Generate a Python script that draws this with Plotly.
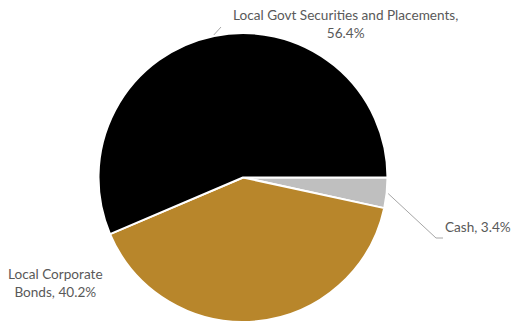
import numpy as np
import plotly.graph_objects as go

labels = ["Cash", "Local Corporate Bonds", "Local Govt Securities and Placements"]
values = [3.4, 40.2, 56.4]
colors = ["#BFBFBF", "#B8862B", "#000000"]
label_text = ["Cash, 3.4%", "Local Corporate<br>Bonds, 40.2%", "Local Govt Securities and Placements,<br>56.4%"]

W, H = 515, 322
cx, cy, r = 243, 178, 145  # pixel geometry of pie

fig = go.Figure(go.Pie(
    labels=labels, values=values, sort=False, direction="clockwise", rotation=90,
    marker=dict(colors=colors, line=dict(color="white", width=2)),
    textinfo="none", hoverinfo="label+percent", showlegend=False,
    domain=dict(x=[(cx - r) / W, (cx + r) / W], y=[max(0, (H - cy - r) / H), (H - cy + r) / H]),
))

# leader lines starting at slice mid-angle on the rim
cum = np.cumsum([0] + values)
total = sum(values)
def rim_point(i, rad):
    mid = (cum[i] + cum[i + 1]) / 2 / total * 360
    ang = np.deg2rad(-mid)  # clockwise from 3 o'clock
    return cx + rad * np.cos(ang), cy - rad * np.sin(ang)

def px(x, y):
    return x / W, 1 - y / H

font = dict(family="Lato, Carlito, sans-serif", size=13.6, color="#595959")

# Cash
x0, y0 = rim_point(0, r + 1)
pts = [(x0, y0), (436, 238), (443, 238)]
for (a, b), (c, d) in zip(pts[:-1], pts[1:]):
    fig.add_shape(type="line", xref="paper", yref="paper",
                  x0=px(a, b)[0], y0=px(a, b)[1], x1=px(c, d)[0], y1=px(c, d)[1],
                  line=dict(color="#A6A6A6", width=1))
fig.add_annotation(x=px(513, 227)[0], y=px(513, 227)[1], xref="paper", yref="paper",
                   text=label_text[0], showarrow=False, xanchor="right", yanchor="middle",
                   font=font, align="right")

# Govt
x0, y0 = rim_point(2, r + 1)
fig.add_shape(type="line", xref="paper", yref="paper",
              x0=px(x0, y0)[0], y0=px(x0, y0)[1], x1=px(221, 27)[0], y1=px(221, 27)[1],
              line=dict(color="#A6A6A6", width=1))
fig.add_annotation(x=px(345, 24)[0], y=px(345, 24)[1], xref="paper", yref="paper",
                   text=label_text[2], showarrow=False, xanchor="center", yanchor="middle",
                   font=font, align="center")

# Corporate
fig.add_annotation(x=px(55, 283)[0], y=px(55, 283)[1], xref="paper", yref="paper",
                   text=label_text[1], showarrow=False, xanchor="center", yanchor="middle",
                   font=font, align="center")

fig.update_layout(width=W, height=H, margin=dict(l=0, r=0, t=0, b=0),
                  paper_bgcolor="white", plot_bgcolor="white")
fig.write_html("out.html")
